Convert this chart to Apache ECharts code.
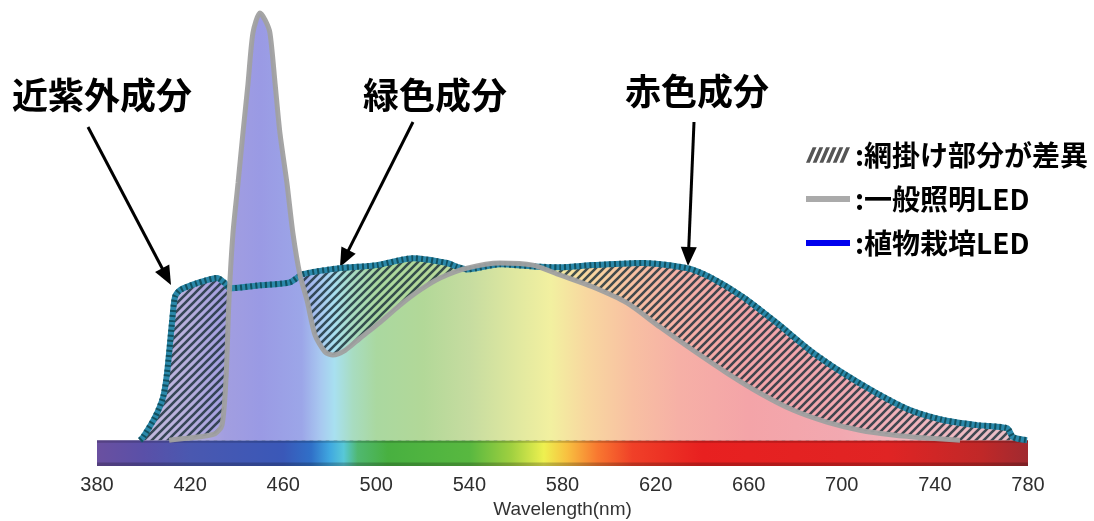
<!DOCTYPE html>
<html><head><meta charset="utf-8">
<script src="https://cdn.jsdelivr.net/npm/echarts@6/dist/echarts.min.js"></script>
<style>html,body{margin:0;padding:0;background:#fff}#c{width:1094px;height:521px}</style>
</head><body><div id="c"></div>
<script>
// ---- data ----
const xTicks = [380, 420, 460, 500, 540, 580, 620, 660, 700, 740, 780];
const grayWavelengths = [411, 424, 430.7, 433.7, 435.4, 436.7, 438.4, 440.6, 442.7, 444.9, 447.0, 450.0, 452.2, 454.3, 456.5, 458.6, 461.6, 464.2, 467.2, 470.2, 473.7, 478.0, 481.4, 486.6, 493.0, 501.6, 510.2, 518.8, 527.4, 539.0, 553.1, 567.3, 578.9, 593.1, 607.7, 621.9, 636.1, 650.7, 664.9, 679.0, 693.6, 707.8, 722.0, 736.6, 750.8];
const grayValues = [0, 0.8, 1.5, 3.5, 14, 32.6, 48, 59.8, 71.4, 83, 94.7, 99.3, 97.7, 94.7, 83, 71.4, 59.8, 48, 38.4, 32.6, 24.4, 20.5, 19.8, 20.9, 23.7, 27.4, 31.4, 34.9, 37.7, 40, 41.2, 40.7, 38.4, 35.6, 31.9, 26.3, 20.9, 15.6, 10.9, 7, 4.2, 2.3, 1.2, 0.5, 0];
const blueWavelengths = [398.5, 399.8, 404.9, 408.4, 410.1, 412.2, 413.5, 415.7, 423.0, 431.6, 435.0, 437.1, 450.0, 462.9, 468.5, 484.4, 500.3, 515.8, 530.4, 534.7, 539.0, 553.1, 567.3, 578.9, 593.1, 614.6, 633.5, 643.4, 657.5, 672.2, 686.3, 700.5, 715.1, 729.3, 743.5, 758.1, 771.0, 773.6, 779.6];
const blueValues = [0, 0.7, 5.3, 10, 15.6, 27.2, 33.3, 34.9, 36.5, 37.7, 36.5, 35.3, 36, 36.7, 38.6, 40, 40.7, 42.3, 41.2, 40.3, 39.7, 40.9, 40.4, 40.2, 40.7, 41.2, 40, 37.9, 33.3, 27.2, 20.9, 15.6, 10.9, 7, 4.7, 3.5, 2.8, 0.7, 0];
const seriesNames = ['網掛け部分が差異', '一般照明LED', '植物栽培LED'];
const annotations = ['近紫外成分', '緑色成分', '赤色成分'];

// ---- styles ----
const paleStops = [[380,'#cac6d8'],[400,'#c2badc'],[420,'#b6aedc'],[435,'#a29ee0'],[450,'#9a9ae4'],[468,'#9ca6e8'],[476,'#a8c8f0'],[482,'#a8e0f0'],[490,'#a8dcc0'],[500,'#aad8a0'],[520,'#b2d898'],[540,'#c6dca0'],[560,'#e0e8a0'],[575,'#f2f0a0'],[590,'#f8d8a0'],[610,'#f8c0a2'],[630,'#f6b0a6'],[660,'#f4a4a8'],[700,'#f2a8b0'],[740,'#f0b8c0'],[780,'#e8c0c8']];
const barStops = [[380,'#6a50a0'],[400,'#5a50a8'],[420,'#4a58b0'],[460,'#3a58b8'],[472,'#3070c8'],[480,'#40a8e0'],[486,'#58c8d8'],[492,'#50b870'],[505,'#48b040'],[540,'#58b840'],[558,'#a0d040'],[572,'#eef050'],[582,'#f8c040'],[595,'#f87830'],[610,'#f04028'],[640,'#e82020'],[720,'#e02424'],[760,'#c02828'],[780,'#a02a30']];
const toStops = s => s.map(([w, c]) => ({offset: (w - 380) / 400, color: c}));
const zip = (xs, ys) => xs.map((x, i) => [x, ys[i]]);

function makeHatch() {
  const s = 8, c = document.createElement('canvas');
  c.width = s; c.height = s;
  const g = c.getContext('2d');
  g.strokeStyle = 'rgba(26,46,56,0.82)'; g.lineWidth = 2.6;
  g.beginPath();
  g.moveTo(0, s); g.lineTo(s, 0);
  g.moveTo(-s / 2, s / 2); g.lineTo(s / 2, -s / 2);
  g.moveTo(s / 2, s * 1.5); g.lineTo(s * 1.5, s / 2);
  g.stroke();
  return c;
}
function arrow(x1, y1, x2, y2) {
  const L = 19, W = 8, dx = x2 - x1, dy = y2 - y1, d = Math.hypot(dx, dy), ux = dx / d, uy = dy / d;
  const bx = x2 - ux * L, by = y2 - uy * L;
  return [
    {type: 'line', shape: {x1, y1, x2: bx + ux * 2, y2: by + uy * 2}, style: {stroke: '#000', lineWidth: 3}},
    {type: 'polygon', shape: {points: [[x2, y2], [bx - uy * W, by + ux * W], [bx + uy * W, by - ux * W]]}, style: {fill: '#000'}}
  ];
}
const txt = (t, x, y) => ({type: 'text', x, y, style: {text: t, font: 'bold 36px "Noto Sans CJK JP"', fill: '#000', align: 'center', verticalAlign: 'middle', textAlign: 'center', textVerticalAlign: 'middle'}});

let hatchIcon = 'path://';
for (let i = 0; i < 6; i++) { const x = i * 7; hatchIcon += `M${x},16L${x + 4},16L${x + 11},0L${x + 7},0Z`; }
const lineIcon = 'path://M0,0L36,0L36,5L0,5Z';

const chart = echarts.init(document.getElementById('c'));
const smooth = 0.25;
const option = {
  animation: false,
  grid: {left: 97, right: 66, top: 10, bottom: 55, outerBoundsMode: 'none', containLabel: false},
  xAxis: {
    type: 'value', min: xTicks[0], max: xTicks[xTicks.length - 1], interval: xTicks[1] - xTicks[0],
    axisLine: {show: false}, axisTick: {show: false}, splitLine: {show: false},
    axisLabel: {fontSize: 20, color: '#2e2e2e', fontFamily: 'Liberation Sans', margin: 9},
    name: 'Wavelength(nm)', nameLocation: 'middle', nameGap: 33,
    nameTextStyle: {fontSize: 19, color: '#333', fontFamily: 'Liberation Sans'}
  },
  yAxis: {type: 'value', min: -6, max: 100, show: false},
  legend: {
    orient: 'vertical', left: 801, top: 135, itemWidth: 44, itemHeight: 16, itemGap: 14,
    selectedMode: false, formatter: n => ':' + n,
    textStyle: {fontSize: 28, fontWeight: 'bold', color: '#000', fontFamily: 'Noto Sans CJK JP', lineHeight: 30},
    data: [
      {name: seriesNames[0], icon: hatchIcon, itemStyle: {color: '#555', borderWidth: 0}},
      {name: seriesNames[1], icon: lineIcon, itemStyle: {color: '#aaaaaa', borderWidth: 0}},
      {name: seriesNames[2], icon: lineIcon, itemStyle: {color: '#0000ee', borderWidth: 0}}
    ]
  },
  graphic: [
    txt(annotations[0], 102, 95), txt(annotations[1], 435, 95), txt(annotations[2], 697, 91),
    ...arrow(88, 127, 171, 285), ...arrow(413, 122, 340, 267), ...arrow(694, 122, 688, 266)
  ],
  series: [
    {id: 'blueFill', name: 'blueFill', type: 'line', z: 1, data: zip(blueWavelengths, blueValues), smooth, symbol: 'none',
     lineStyle: {width: 0}, areaStyle: {color: '#c0c0e0', opacity: 1},
     markArea: {silent: true, data: [
       [{coord: [380, -6], itemStyle: {color: {type: 'linear', x: 0, y: 0, x2: 1, y2: 0, colorStops: toStops(barStops)}}}, {coord: [780, 0]}],
       [{coord: [380, -6], itemStyle: {color: 'rgba(0,0,0,0.22)'}}, {coord: [780, -5.2]}],
       [{coord: [380, -0.6], itemStyle: {color: 'rgba(0,0,0,0.18)'}}, {coord: [780, 0]}]
     ]}},
    {id: 'hatch', name: seriesNames[0], type: 'line', z: 2, data: zip(blueWavelengths, blueValues), smooth, symbol: 'none',
     itemStyle: {color: '#4a4a4a'}, lineStyle: {width: 0}, areaStyle: {color: {image: makeHatch(), repeat: 'repeat'}, opacity: 1}},
    {id: 'grayFill', name: 'grayFill', type: 'line', z: 3, data: zip(grayWavelengths, grayValues), smooth, symbol: 'none',
     lineStyle: {width: 0}, areaStyle: {color: '#c0c0e0', opacity: 1}},
    {id: 'blueLine', name: seriesNames[2], type: 'line', z: 4, data: zip(blueWavelengths, blueValues), smooth, symbol: 'none',
     itemStyle: {color: '#0000ee'}, lineStyle: {width: 6, color: '#2a88aa'}},
    {id: 'blueDash', name: 'blueDash', type: 'line', z: 5, data: zip(blueWavelengths, blueValues), smooth, symbol: 'none',
     lineStyle: {width: 6, color: 'rgba(14,72,84,0.85)', type: [2, 3]}},
    {id: 'grayLine', name: seriesNames[1], type: 'line', z: 6, data: zip(grayWavelengths, grayValues), smooth, symbol: 'none',
     itemStyle: {color: '#aaaaaa'}, lineStyle: {width: 5, color: 'rgba(160,160,160,0.95)'}}
  ]
};
chart.setOption(option);
const p0 = chart.convertToPixel({xAxisIndex: 0}, xTicks[0]);
const p1 = chart.convertToPixel({xAxisIndex: 0}, xTicks[xTicks.length - 1]);
const pale = () => ({type: 'linear', x: p0, y: 0, x2: p1, y2: 0, global: true, colorStops: toStops(paleStops)});
chart.setOption({series: [{id: 'blueFill', areaStyle: {color: pale()}}, {id: 'grayFill', areaStyle: {color: pale()}}]});
</script></body></html>
